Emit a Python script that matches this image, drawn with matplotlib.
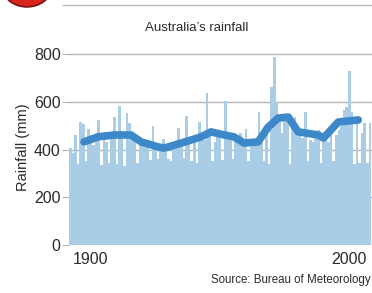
import numpy as np
import matplotlib.pyplot as plt
from matplotlib.patches import Circle
from matplotlib.lines import Line2D

plt.rcParams['font.family'] = ['Liberation Sans Narrow', 'Liberation Sans', 'DejaVu Sans']

# annual rainfall (mm)
years = list(range(1892, 2009))
rain = [405, 385, 460, 340, 515, 505, 350, 486, 460, 420,
        440, 524, 335, 450, 430, 345, 470, 536, 340, 582,
        470, 330, 553, 510, 470, 440, 345, 420, 430, 410,
        440, 355, 498, 420, 360, 410, 444, 400, 360, 350,
        420, 430, 490, 440, 365, 540, 430, 350, 460, 345,
        515, 470, 440, 637, 480, 350, 430, 470, 460, 355,
        604, 470, 440, 360, 450, 430, 470, 440, 486, 350,
        430, 440, 420, 557, 440, 350, 480, 340, 662, 788,
        600, 520, 470, 520, 545, 340, 500, 536, 470, 480,
        450, 557, 350, 440, 430, 460, 482, 345, 440, 450,
        430, 470, 350, 460, 480, 500, 566, 578, 729, 557,
        340, 515, 345, 470, 511, 345, 510]

# running mean line
avg_years = [1897.3, 1902.7, 1909, 1915.5, 1919.4, 1926, 1928.3, 1934.9, 1942.6,
             1946.5, 1951.6, 1955.4, 1959.3, 1964.7, 1968.6, 1972.5, 1976.4,
             1980.2, 1988, 1990, 1995.7, 2003.5]
avg_vals = [432, 453, 461, 461, 432, 411, 406, 427, 453,
            474, 461, 453, 427, 432, 494, 532, 536,
            474, 461, 448, 515, 524]

yticks = [0, 200, 400, 600, 800]
xticks = [1900, 2000]

fig = plt.figure(figsize=(3.72, 2.93), dpi=100)
ax = fig.add_axes([0.1855, 0.1638, 0.8145, 0.668])

ax.bar(years, rain, width=1.0, color='#a9cce7', linewidth=0, zorder=2)
ax.plot(avg_years, avg_vals, color='#3c88c9', lw=5.5, solid_capstyle='round',
        solid_joinstyle='round', zorder=3)

ax.set_xlim(1891.5, 2008.8)
ax.set_ylim(0, 820)
ax.set_yticks(yticks)
ax.set_xticks(xticks)
ax.grid(axis='y', color='#b5b5b5', lw=1, zorder=1)
for s in ax.spines.values():
    s.set_visible(False)
ax.tick_params(axis='y', length=5, color='#b5b5b5', labelsize=11.5, pad=1,
               labelcolor='#2a2a2a')
ax.tick_params(axis='x', length=0, labelsize=11.5, pad=5, labelcolor='#2a2a2a')
ax.set_ylabel('Rainfall (mm)', fontsize=10.5, color='#2a2a2a', labelpad=3)

fig.text(0.53, 0.905, "Australia\u2019s rainfall", ha='center', va='center',
         fontsize=9.5, color='#2a2a2a')
fig.text(0.995, 0.045, 'Source: Bureau of Meteorology', ha='right', va='center',
         fontsize=8.3, color='#2a2a2a')

# top decoration
fig.add_artist(Circle((27 / 372, 1 + 12 / 293), 24 / 372, transform=fig.transFigure,
                      facecolor='#d8261f', edgecolor='#7a1010', lw=1.2, clip_on=False))
fig.add_artist(Line2D([63 / 372, 1], [1 - 5 / 293, 1 - 5 / 293],
                      transform=fig.transFigure, color='#bbbbbb', lw=1))

fig.savefig('out.png', dpi=100)
